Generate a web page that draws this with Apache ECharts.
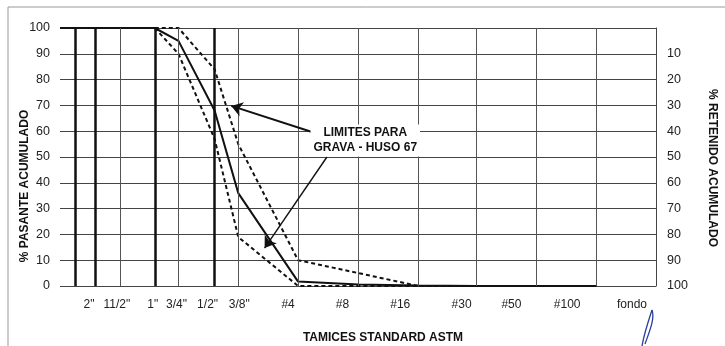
<!DOCTYPE html>
<html><head><meta charset="utf-8">
<script src="https://cdn.jsdelivr.net/npm/echarts@6/dist/echarts.min.js"></script>
<style>html,body{margin:0;padding:0;background:#fff}#c{width:725px;height:346px}</style>
</head><body><div id="c"></div>
<script>
// sieve openings (mm), log scale
const sieveSizes = [75, 63, 50, 37.5, 25, 19, 12.5, 9.5, 4.75, 2.36, 1.18, 0.6, 0.3, 0.15];
const sieveLabels = ['', '', '2"', '11/2"', '1"', '3/4"', '1/2"', '3/8"', '#4', '#8', '#16', '#30', '#50', '#100'];
const panSize = 0.075;
const panLabel = 'fondo';
// % passing
const muestra = [100, 100, 100, 100, 100, 95, 68, 36, 1.7, 0.6, 0.2, 0, 0, 0];
const limiteSup = [null, null, null, null, 100, 100, 84, 55, 10, 5, 0, 0, 0, 0];
const limiteInf = [null, null, null, null, 100, 90, 57, 19, 0, 0, 0, 0, 0, 0];
const yTicks = [0, 10, 20, 30, 40, 50, 60, 70, 80, 90, 100];
const thickSieves = [63, 50, 25, 12.5];
const annotationText = 'LIMITES PARA\nGRAVA - HUSO 67';

const FONT = '"Liberation Sans", Arial, sans-serif';
const labelOffsets = [0, 0, -6, -3, -2, -2, -7, 1, -10, -16, -18, -15, -25, -29];

function pairs(vals) {
  const out = [];
  vals.forEach((v, i) => { if (v !== null) out.push([sieveSizes[i], v]); });
  return out;
}

const chart = echarts.init(document.getElementById('c'), null, {renderer: 'canvas'});

const vLines = sieveSizes.slice(1).map(s => ({
  xAxis: s,
  lineStyle: {color: thickSieves.includes(s) ? '#111' : '#555', width: thickSieves.includes(s) ? 2.5 : 1, type: 'solid'}
}));

const option = {
  animation: false,
  backgroundColor: '#fff',
  grid: {left: 60, right: 69, top: 28, bottom: 60},
  xAxis: {
    type: 'log', logBase: 10, min: panSize, max: 75, inverse: true,
    axisLine: {show: false}, axisTick: {show: false}, axisLabel: {show: false}, splitLine: {show: false}
  },
  yAxis: [
    {
      type: 'value', min: yTicks[0], max: yTicks[yTicks.length - 1], interval: 10,
      axisLine: {show: false}, axisTick: {show: false},
      axisLabel: {color: '#222', fontFamily: FONT, fontSize: 12.5, margin: 10},
      splitLine: {show: true, lineStyle: {color: '#444', width: 1}}
    },
    {
      type: 'value', min: 0, max: 100, interval: 10, inverse: true, position: 'right',
      axisLine: {show: true, lineStyle: {color: '#444', width: 1}}, axisTick: {show: false},
      axisLabel: {color: '#222', fontFamily: FONT, fontSize: 12.5, margin: 11, formatter: v => v === 0 ? '' : String(v)},
      splitLine: {show: false}
    }
  ],
  series: [
    {
      type: 'line', name: 'grid', data: [], silent: true,
      markLine: {silent: true, symbol: ['none', 'none'], label: {show: false}, data: vLines}
    },
    {
      type: 'line', name: 'Límite superior', data: pairs(limiteSup), showSymbol: false,
      lineStyle: {color: '#111', width: 2, type: [4, 3]}, z: 3
    },
    {
      type: 'line', name: 'Límite inferior', data: pairs(limiteInf), showSymbol: false,
      lineStyle: {color: '#111', width: 2, type: [4, 3]}, z: 3
    },
    {
      type: 'line', name: 'Muestra', data: pairs(muestra), showSymbol: false,
      lineStyle: {color: '#111', width: 2}, z: 4
    },
    {
      type: 'line', name: 'arrows', data: [], silent: true, z: 6,
      markLine: {
        silent: true, symbol: ['none', 'arrow'], symbolSize: 11, label: {show: false},
        lineStyle: {color: '#111', width: 2, type: 'solid'},
        data: [
          [{coord: [3.9, 59.3]}, {coord: [10.3, 69.8]}],
          [{coord: [3.4, 50], lineStyle: {width: 1.4}}, {coord: [7.0, 14.7]}]
        ]
      }
    }
  ]
};
chart.setOption(option);

const graphics = [];
// frame
graphics.push({type: 'polyline', shape: {points: [[8, 346], [8, 7], [725, 7]]}, style: {stroke: '#999', lineWidth: 1, fill: null}});
// x labels
sieveSizes.forEach((s, i) => {
  if (!sieveLabels[i]) return;
  const px = chart.convertToPixel({xAxisIndex: 0}, s);
  graphics.push({type: 'text', x: px + labelOffsets[i], y: 305,
    style: {text: sieveLabels[i], font: '12px ' + FONT, fill: '#222', align: 'center', verticalAlign: 'middle'}});
});
{
  const px = chart.convertToPixel({xAxisIndex: 0}, panSize);
  graphics.push({type: 'text', x: px - 24, y: 305,
    style: {text: panLabel, font: '12px ' + FONT, fill: '#222', align: 'center', verticalAlign: 'middle'}});
}
// annotation text
{
  const p = chart.convertToPixel({xAxisIndex: 0, yAxisIndex: 0}, [2.18, 56.4]);
  graphics.push({type: 'text', x: p[0], y: p[1], z: 10,
    style: {text: annotationText, font: 'bold 12px ' + FONT, fill: '#111', align: 'center', verticalAlign: 'middle', lineHeight: 15, backgroundColor: '#fff', padding: [1, 3]}});
}
// axis names
graphics.push({type: 'text', x: 25, y: 186, rotation: Math.PI / 2,
  style: {text: '% PASANTE ACUMULADO', font: 'bold 12px ' + FONT, fill: '#111', align: 'center', verticalAlign: 'middle'}});
graphics.push({type: 'text', x: 712, y: 168, rotation: -Math.PI / 2,
  style: {text: '% RETENIDO ACUMULADO', font: 'bold 12px ' + FONT, fill: '#111', align: 'center', verticalAlign: 'middle'}});
graphics.push({type: 'text', x: 383, y: 338,
  style: {text: 'TAMICES STANDARD ASTM', font: 'bold 12px ' + FONT, fill: '#111', align: 'center', verticalAlign: 'middle'}});
// signature stroke
graphics.push({type: 'bezierCurve', shape: {x1: 652, y1: 310, cpx1: 648, cpy1: 322, cpx2: 644, cpy2: 334, x2: 642, y2: 346},
  style: {stroke: '#2a3f9a', lineWidth: 1.3, fill: null}});
graphics.push({type: 'bezierCurve', shape: {x1: 652, y1: 310, cpx1: 655, cpy1: 318, cpx2: 650, cpy2: 330, x2: 645, y2: 344},
  style: {stroke: '#2a3f9a', lineWidth: 1.3, fill: null}});

chart.setOption({graphic: graphics});
</script>
</body></html>
